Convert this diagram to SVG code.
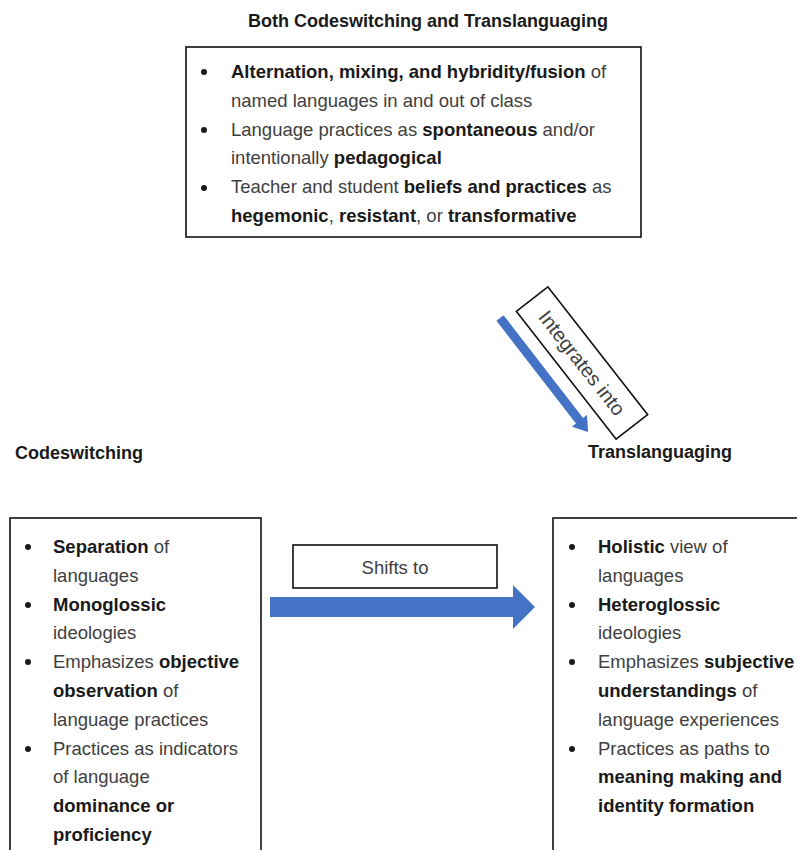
<svg xmlns="http://www.w3.org/2000/svg" width="797" height="850" viewBox="0 0 797 850">
<style>
.t{font-family:"Liberation Sans",Arial,sans-serif;font-size:18.5px;fill:#404040}
.b{font-weight:bold;fill:#1a1a1a}
.h{font-family:"Liberation Sans",Arial,sans-serif;font-size:18px;font-weight:bold;fill:#1a1a1a}
.box{fill:#fff;stroke:#111;stroke-width:1.6}
.blt{fill:#1a1a1a}
.arr{fill:#4472C4}
</style>
<rect width="797" height="850" fill="#fff"/>
<g id="connectors">
<polygon class="arr" points="270,597 513,597 513,585 535,607 513,629 513,617 270,617"/>
<g transform="translate(500,318) rotate(52.3)"><polygon class="arr" points="0,-4.5 130,-4.5 130,-9.5 144,0 130,9.5 130,4.5 0,4.5"/></g>
<g id="label-shifts"><rect class="box" x="293" y="545" width="204" height="43"/><text class="t" x="395" y="574" text-anchor="middle">Shifts to</text></g>
<g id="label-integrates" transform="translate(582,363) rotate(52)"><rect class="box" x="-81" y="-20" width="162" height="40"/><text class="t" x="0" y="7" text-anchor="middle" style="font-size:20px">Integrates into</text></g>
</g>
<g id="both">
<text class="h" x="428" y="27" text-anchor="middle">Both Codeswitching and Translanguaging</text>
<rect class="box" x="186" y="47" width="455" height="190"/>
<circle class="blt" cx="204" cy="72" r="3"/>
<circle class="blt" cx="204" cy="130" r="3"/>
<circle class="blt" cx="204" cy="188" r="3"/>
<text class="t" x="231" y="78"><tspan class="b">Alternation, mixing, and hybridity/fusion</tspan> of</text>
<text class="t" x="231" y="107">named languages in and out of class</text>
<text class="t" x="231" y="136">Language practices as <tspan class="b">spontaneous</tspan> and/or</text>
<text class="t" x="231" y="164">intentionally <tspan class="b">pedagogical</tspan></text>
<text class="t" x="231" y="193">Teacher and student <tspan class="b">beliefs and practices</tspan> as</text>
<text class="t" x="231" y="222"><tspan class="b">hegemonic</tspan>, <tspan class="b">resistant</tspan>, or <tspan class="b">transformative</tspan></text>
</g>
<g id="codeswitching">
<text class="h" x="15" y="459">Codeswitching</text>
<rect class="box" x="10" y="518" width="251" height="345"/>
<circle class="blt" cx="28" cy="547" r="3"/>
<circle class="blt" cx="28" cy="605" r="3"/>
<circle class="blt" cx="28" cy="662" r="3"/>
<circle class="blt" cx="28" cy="749" r="3"/>
<text class="t" x="53" y="553"><tspan class="b">Separation</tspan> of</text>
<text class="t" x="53" y="582">languages</text>
<text class="t" x="53" y="611"><tspan class="b">Monoglossic</tspan></text>
<text class="t" x="53" y="639">ideologies</text>
<text class="t" x="53" y="668">Emphasizes <tspan class="b">objective</tspan></text>
<text class="t" x="53" y="697"><tspan class="b">observation</tspan> of</text>
<text class="t" x="53" y="726">language practices</text>
<text class="t" x="53" y="755">Practices as indicators</text>
<text class="t" x="53" y="783">of language</text>
<text class="t" x="53" y="812"><tspan class="b">dominance or</tspan></text>
<text class="t" x="53" y="841"><tspan class="b">proficiency</tspan></text>
</g>
<g id="translanguaging">
<text class="h" x="588" y="458">Translanguaging</text>
<rect class="box" x="553" y="518" width="260" height="345"/>
<circle class="blt" cx="572" cy="547" r="3"/>
<circle class="blt" cx="572" cy="605" r="3"/>
<circle class="blt" cx="572" cy="662" r="3"/>
<circle class="blt" cx="572" cy="749" r="3"/>
<text class="t" x="598" y="553"><tspan class="b">Holistic</tspan> view of</text>
<text class="t" x="598" y="582">languages</text>
<text class="t" x="598" y="611"><tspan class="b">Heteroglossic</tspan></text>
<text class="t" x="598" y="639">ideologies</text>
<text class="t" x="598" y="668">Emphasizes <tspan class="b">subjective</tspan></text>
<text class="t" x="598" y="697"><tspan class="b">understandings</tspan> of</text>
<text class="t" x="598" y="726">language experiences</text>
<text class="t" x="598" y="755">Practices as paths to</text>
<text class="t" x="598" y="783"><tspan class="b">meaning making and</tspan></text>
<text class="t" x="598" y="812"><tspan class="b">identity formation</tspan></text>
</g>
</svg>
